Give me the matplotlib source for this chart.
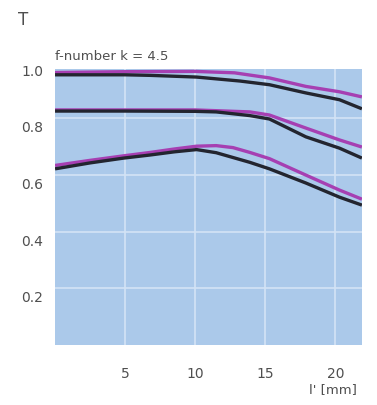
import numpy as np
import matplotlib.pyplot as plt
import matplotlib.transforms as mtransforms

# image height l' [mm] and relative illumination T, upper pair
x_top_b = [0, 5, 6.8, 10.1, 13.2, 15.3, 17.9, 20.3, 21.9]
top_black = [0.954, 0.954, 0.952, 0.946, 0.932, 0.919, 0.890, 0.866, 0.834]
x_top_m = [0, 5, 10, 12.8, 15.3, 17.9, 20.3, 21.9]
top_magenta = [0.962, 0.965, 0.966, 0.961, 0.943, 0.913, 0.894, 0.876]

# middle pair
x_mid_b = [0, 5, 10, 11.5, 13.9, 15.3, 17.9, 20.3, 21.9]
mid_black = [0.826, 0.826, 0.825, 0.823, 0.810, 0.798, 0.735, 0.695, 0.660]
x_mid_m = [0, 5, 10, 13.9, 15.3, 17.9, 20.3, 21.9]
mid_magenta = [0.830, 0.830, 0.830, 0.823, 0.812, 0.766, 0.724, 0.699]

# lower pair
x_low = [0, 2.5, 4.9, 6.8, 8.5, 10.1, 11.5, 12.7, 13.9, 15.3, 17.9, 20.3, 21.9]
low_black = [0.622, 0.643, 0.660, 0.671, 0.682, 0.690, 0.679, 0.662, 0.645, 0.622, 0.572, 0.522, 0.494]
low_magenta = [0.634, 0.652, 0.668, 0.680, 0.692, 0.702, 0.704, 0.697, 0.680, 0.658, 0.600, 0.547, 0.515]

xticks = [5, 10, 15, 20]
yticks = [0.2, 0.4, 0.6, 0.8, 1.0]

bg = '#abc9ea'
black = '#23252f'
magenta = '#a63fb2'
txt = '#4f4f4f'

fig = plt.figure(figsize=(3.77, 4.05), dpi=100)
ax = fig.add_axes([0.146, 0.148, 0.814, 0.682])
ax.set_facecolor(bg)

for xb, b, xm, m in [(x_top_b, top_black, x_top_m, top_magenta),
                     (x_mid_b, mid_black, x_mid_m, mid_magenta),
                     (x_low, low_black, x_low, low_magenta)]:
    ax.plot(xm, m, color=magenta, lw=2.4, solid_capstyle='butt', solid_joinstyle='round')
    ax.plot(xb, b, color=black, lw=2.4, solid_capstyle='butt', solid_joinstyle='round')

ax.set_xlim(0, 21.9)
ax.set_ylim(0, 0.975)
ax.set_xticks(xticks)
ax.set_xticklabels([str(v) for v in xticks], fontsize=10, color=txt)
ax.set_yticks(yticks[:-1])
ax.set_yticklabels([])
ax.tick_params(length=0)
ax.tick_params(axis='x', pad=16)
ax.grid(True, color='#d3e3f5', lw=1.2)
ax.set_axisbelow(True)
for s in ax.spines.values():
    s.set_visible(False)

# y labels sit a little below their grid lines in the original
off = mtransforms.ScaledTranslation(-12 / 100, -10 / 100, fig.dpi_scale_trans)
for v in yticks:
    ax.text(0, v, f'{v:.1f}', transform=ax.get_yaxis_transform() + off,
            ha='right', va='center', fontsize=10, color=txt, clip_on=False)

fig.text(23 / 377, 1 - 20 / 405, 'T', fontsize=12, color=txt, ha='center', va='center')
fig.text(55 / 377, 1 - 57 / 405, 'f-number k = 4.5', fontsize=9.5, color=txt,
         ha='left', va='center')
fig.text(357 / 377, 1 - 390 / 405, "l' [mm]", fontsize=9.5, color=txt,
         ha='right', va='center')

fig.savefig('out.png', dpi=100)
